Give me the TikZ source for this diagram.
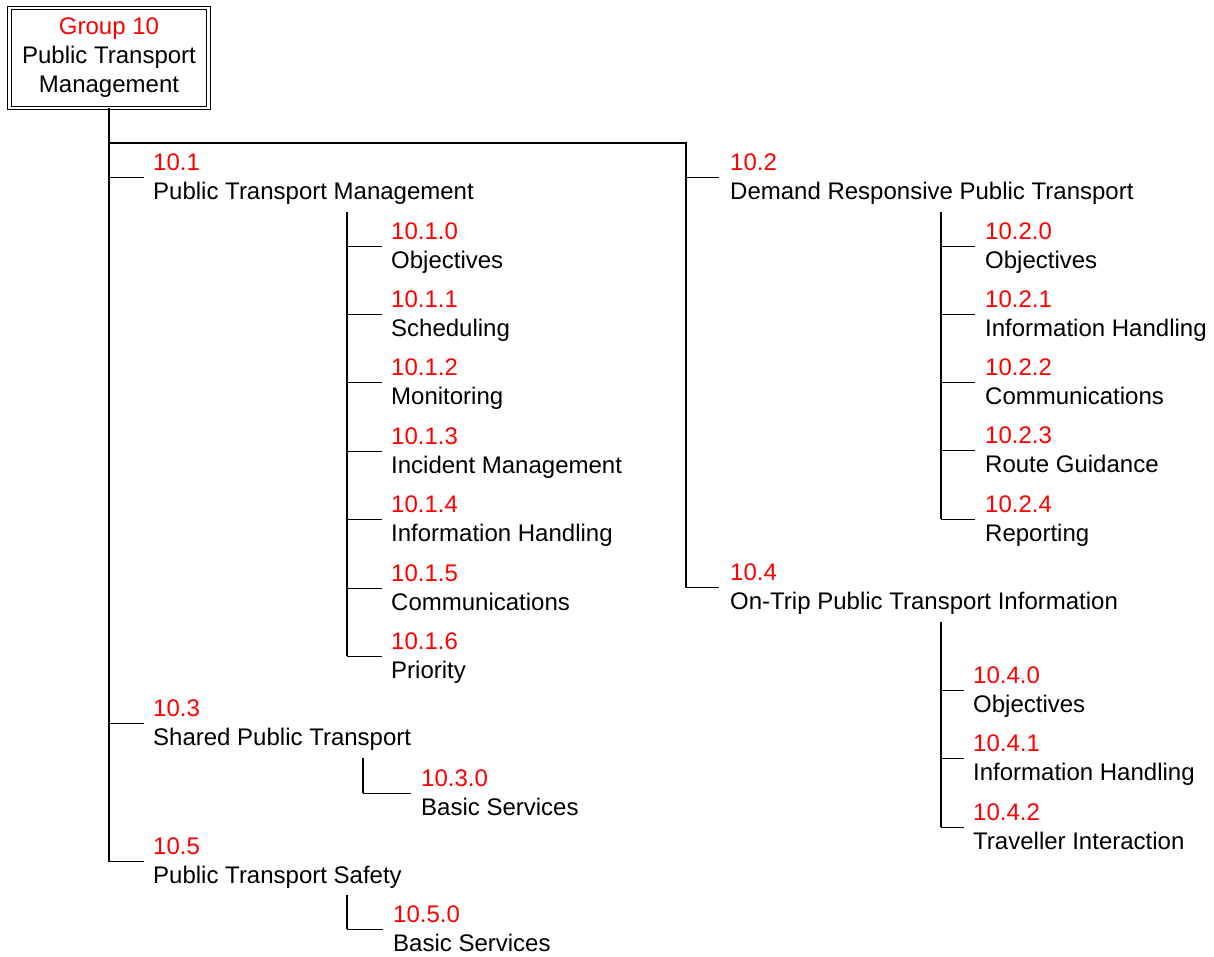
\documentclass[tikz,border=0pt]{standalone}
\usepackage{fontspec}
\setmainfont{Liberation Sans}
\definecolor{numred}{RGB}{255,0,0}
\tikzset{
  num/.style={inner sep=0pt, text=numred, font=\fontsize{24}{29}\selectfont},
  ttl/.style={inner sep=0pt, text=black, font=\fontsize{24}{29}\selectfont},
  trunk/.style={line width=2pt, line cap=rect},
  tick/.style={line width=1pt},
  groupbox/.style={draw=black, double, double distance=2.5pt, line width=1pt,
    minimum width=199pt, minimum height=100pt, inner sep=0pt,
    align=center, font=\fontsize{24}{29}\selectfont}
}
\newcommand\leafitem[6]{%
  \coordinate (k#1) at (#2,#3);
  \node[num, anchor=base west] (n#1) at (#4,#3-7) {#5};
  \node[ttl, anchor=base west] (t#1) at (#4,#3+22) {#6};
}
\begin{document}
\begin{tikzpicture}[x=1pt,y=-1pt]
\useasboundingbox (0,0) rectangle (1214,956);

% group box
\node[groupbox] (g10) at (109,58) {\textcolor{numred}{Group 10}\\Public Transport\\Management};

% level-1 items
\leafitem{1}{144}{177}{153}{10.1}{Public Transport Management}
\leafitem{2}{719}{177}{730}{10.2}{Demand Responsive Public Transport}
\leafitem{3}{144}{723}{153}{10.3}{Shared Public Transport}
\leafitem{4}{719}{587}{730}{10.4}{On-Trip Public Transport Information}
\leafitem{5}{144}{861}{153}{10.5}{Public Transport Safety}

% main trunk
\coordinate (bus) at (686,143);
\draw[trunk] (g10.south) -- (g10.south |- k5);
\draw[trunk] (g10.south |- bus) -- (bus) -- (bus |- k4);
\draw[tick] (g10.south |- k1) -- (k1);
\draw[tick] (g10.south |- k3) -- (k3);
\draw[tick] (g10.south |- k5) -- (k5);
\draw[tick] (bus |- k2) -- (k2);
\draw[tick] (bus |- k4) -- (k4);

% 10.1 children
\leafitem{10}{382}{246}{391}{10.1.0}{Objectives}
\leafitem{11}{382}{314.4}{391}{10.1.1}{Scheduling}
\leafitem{12}{382}{382.8}{391}{10.1.2}{Monitoring}
\leafitem{13}{382}{451.2}{391}{10.1.3}{Incident Management}
\leafitem{14}{382}{519.6}{391}{10.1.4}{Information Handling}
\leafitem{15}{382}{588}{391}{10.1.5}{Communications}
\leafitem{16}{382}{656.4}{391}{10.1.6}{Priority}
\coordinate (v1) at (347,212);
\draw[trunk, line cap=butt] (v1) -- (v1 |- k16);
\foreach \i in {10,...,16} {\draw[tick] (v1 |- k\i) -- (k\i);}

% 10.2 children
\leafitem{20}{975}{246}{985}{10.2.0}{Objectives}
\leafitem{21}{975}{314.3}{985}{10.2.1}{Information Handling}
\leafitem{22}{975}{382.6}{985}{10.2.2}{Communications}
\leafitem{23}{975}{450.9}{985}{10.2.3}{Route Guidance}
\leafitem{24}{975}{519.2}{985}{10.2.4}{Reporting}
\coordinate (v2) at (941,212);
\draw[trunk, line cap=butt] (v2) -- (v2 |- k24);
\foreach \i in {20,...,24} {\draw[tick] (v2 |- k\i) -- (k\i);}

% 10.3 children
\leafitem{30}{411}{793}{421}{10.3.0}{Basic Services}
\coordinate (v3) at (363,758);
\draw[trunk, line cap=butt] (v3) -- (v3 |- k30);
\draw[tick] (v3 |- k30) -- (k30);

% 10.4 children
\leafitem{40}{964}{690}{973}{10.4.0}{Objectives}
\leafitem{41}{964}{758.5}{973}{10.4.1}{Information Handling}
\leafitem{42}{964}{827}{973}{10.4.2}{Traveller Interaction}
\coordinate (v4) at (941,622);
\draw[trunk, line cap=butt] (v4) -- (v4 |- k42);
\foreach \i in {40,...,42} {\draw[tick] (v4 |- k\i) -- (k\i);}

% 10.5 children
\leafitem{50}{383}{929}{393}{10.5.0}{Basic Services}
\coordinate (v5) at (347,895);
\draw[trunk, line cap=butt] (v5) -- (v5 |- k50);
\draw[tick] (v5 |- k50) -- (k50);
\end{tikzpicture}
\end{document}
